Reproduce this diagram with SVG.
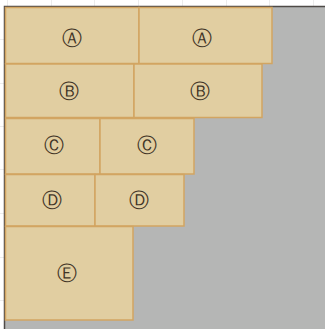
<svg xmlns="http://www.w3.org/2000/svg" width="325" height="329" viewBox="0 0 325 329">
<style>
.grid{stroke:#ececec;stroke-width:1}
.cell rect{fill:#e1cea1;stroke:#d2a562;stroke-width:1.5}
.cell text{font-family:"DejaVu Sans",sans-serif;font-size:20px;fill:#3f3426;text-anchor:middle;dominant-baseline:central}
</style>
<rect x="0" y="0" width="325" height="329" fill="#ffffff"/>
<g id="grid">
<line class="grid" x1="7.5" y1="0" x2="7.5" y2="6"/>
<line class="grid" x1="51.5" y1="0" x2="51.5" y2="6"/>
<line class="grid" x1="94.5" y1="0" x2="94.5" y2="6"/>
<line class="grid" x1="138.5" y1="0" x2="138.5" y2="6"/>
<line class="grid" x1="182.5" y1="0" x2="182.5" y2="6"/>
<line class="grid" x1="226.5" y1="0" x2="226.5" y2="6"/>
<line class="grid" x1="269.5" y1="0" x2="269.5" y2="6"/>
<line class="grid" x1="313.5" y1="0" x2="313.5" y2="6"/>
<line class="grid" x1="0" y1="39.5" x2="4" y2="39.5"/>
<line class="grid" x1="0" y1="83.5" x2="4" y2="83.5"/>
<line class="grid" x1="0" y1="126.5" x2="4" y2="126.5"/>
<line class="grid" x1="0" y1="169.5" x2="4" y2="169.5"/>
<line class="grid" x1="0" y1="213.5" x2="4" y2="213.5"/>
<line class="grid" x1="0" y1="257.5" x2="4" y2="257.5"/>
<line class="grid" x1="0" y1="300.5" x2="4" y2="300.5"/>
</g>
<rect x="4" y="6" width="321" height="323" fill="#b5b6b5"/>
<path d="M4.5 329 V6.5 H325" fill="none" stroke="#4e4a47" stroke-width="1.5"/>
<g id="A1" class="cell"><rect x="5.5" y="7.5" width="133.5" height="56"/><text x="72" y="38">Ⓐ</text></g>
<g id="A2" class="cell"><rect x="139" y="7.5" width="133" height="56"/><text x="202" y="38">Ⓐ</text></g>
<g id="B1" class="cell"><rect x="5.5" y="64" width="128.5" height="53.5"/><text x="69" y="91">Ⓑ</text></g>
<g id="B2" class="cell"><rect x="134" y="64" width="128" height="53.5"/><text x="200" y="91">Ⓑ</text></g>
<g id="C1" class="cell"><rect x="5.5" y="118.5" width="94.5" height="55.5"/><text x="54" y="145">Ⓒ</text></g>
<g id="C2" class="cell"><rect x="100" y="118.5" width="94" height="55.5"/><text x="147" y="145">Ⓒ</text></g>
<g id="D1" class="cell"><rect x="5.5" y="174.5" width="89.5" height="51.5"/><text x="52" y="200">Ⓓ</text></g>
<g id="D2" class="cell"><rect x="95" y="174.5" width="89" height="51.5"/><text x="139" y="200">Ⓓ</text></g>
<g id="E" class="cell"><rect x="5.5" y="226.5" width="127.5" height="93.5"/><text x="67" y="273">Ⓔ</text></g>
<g id="connectors"></g>
</svg>
